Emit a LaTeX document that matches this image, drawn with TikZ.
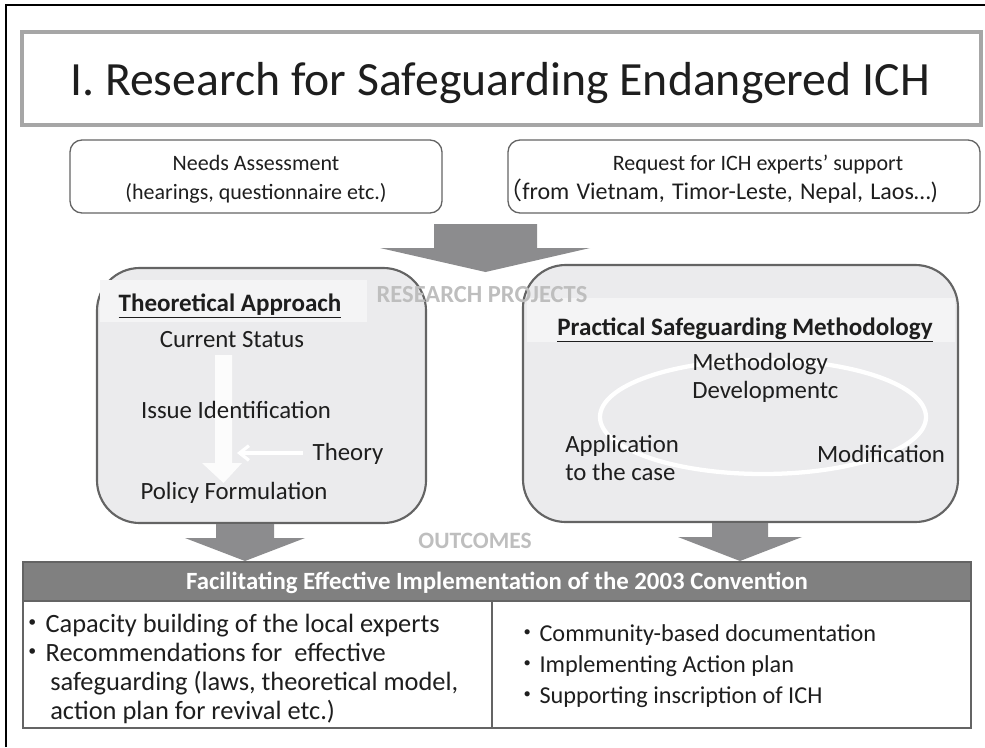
\documentclass[tikz,border=0pt]{standalone}
\usepackage{fontspec}
\setmainfont{Carlito}
\newfontfamily\cjk{Noto Sans CJK JP}
\usepackage{xcolor}
\usepackage{tikz}
\usetikzlibrary{calc,shapes,positioning,arrows.meta}

\definecolor{framegray}{RGB}{166,166,166}
\definecolor{linegray}{RGB}{100,100,100}
\definecolor{boxfill}{RGB}{235,235,237}
\definecolor{bandfill}{RGB}{244,244,245}
\definecolor{arrowgray}{RGB}{140,140,142}
\definecolor{headgray}{RGB}{128,128,128}
\definecolor{fadetext}{RGB}{190,190,190}
\definecolor{inktext}{RGB}{30,30,30}

\tikzset{
  txt/.style={inner sep=0pt, text=inktext},
  toptxt/.style={txt, font=\fontsize{16.5}{20}\selectfont},
  midtxt/.style={txt, font=\fontsize{18.6}{22}\selectfont},
  lowtxt/.style={txt, font=\fontsize{19.8}{24}\selectfont, anchor=base west},
  fadetxt/.style={inner sep=0pt, text=fadetext, font=\bfseries\fontsize{18.4}{22}\selectfont}
}

\begin{document}
\begin{tikzpicture}[x=0.75pt,y=0.75pt,yscale=-1,xscale=1]
\useasboundingbox (0,0) rectangle (985,747);

%Shape: page frame
\draw [line width=0.9] (6,747) -- (6,5) -- (985,5) ;

%Shape: title box
\draw [draw=framegray, line width=2.6, fill=white] (22,32) rectangle (981,125) ;
% Text Node
\node (title) [txt, anchor=base, font=\fontsize{35.8}{42}\selectfont] at (500,95) {I. Research for Safeguarding Endangered ICH};

%Shape: needs box
\draw [draw=linegray, line width=1, rounded corners=9] (70,140) rectangle (442,213) ;
% Text Node
\node (needs) [toptxt, anchor=base] at (256,170) {Needs Assessment};
\node (hearings) [toptxt, anchor=base] at (256,199) {(hearings, questionnaire etc.)};

%Shape: request box
\draw [draw=linegray, line width=1, rounded corners=9] (508,140) rectangle (980,213) ;
% Text Node
\node (request) [toptxt, anchor=base] at (758,170) {Request for ICH experts’ support};
\node (countries) [txt, anchor=base west, font=\fontsize{18}{21}\selectfont] at (498,199) {\spaceskip=0.3em plus 0.1em\relax{\cjk （}from Vietnam, Timor-Leste, Nepal, Laos…)};

%Shape: top block arrow
\fill [arrowgray] (434,224) -- (537,224) -- (537,248) -- (590,248) -- (485.5,272) -- (380,248) -- (434,248) -- cycle ;

%Shape: theoretical box
\draw [draw=linegray, line width=1.6, fill=boxfill, rounded corners=32] (97,268) rectangle (426,523) ;
\fill [bandfill] (100,280) rectangle (367,322) ;
% Text Node
\node (theo) [txt, anchor=base, font=\bfseries\fontsize{18.8}{22}\selectfont] at (230,311) {\underline{Theoretical Approach}};
\node (status) [midtxt, anchor=base] at (232,347) {Current Status};
%Shape: white down arrow
\fill [white, opacity=0.85] (215,355) -- (232,355) -- (232,463) -- (242,463) -- (223.5,483) -- (202,463) -- (215,463) -- cycle ;
\node (issue) [midtxt, anchor=base] at (236,418) {Issue Identification};
\node (theory) [midtxt, anchor=base] at (348,460) {Theory};
\coordinate (theoryin) at (303,453) ;
\coordinate (theoryout) at (237,453) ;
\draw [white, line width=2.4, -{Straight Barb[length=7pt,width=11pt]}] (theoryin) -- (theoryout) ;
\node (policy) [midtxt, anchor=base] at (234,499) {Policy Formulation};

%Shape: practical box
\draw [draw=linegray, line width=1.6, fill=boxfill, rounded corners=32] (523,265) rectangle (958,522) ;
\fill [bandfill] (527,298) rectangle (955,342) ;
% Text Node
\node (prac) [txt, anchor=base, font=\bfseries\fontsize{18.8}{22}\selectfont] at (745,335) {\underline{Practical Safeguarding Methodology}};
%Shape: white ellipse
\draw [white, line width=3.2] (763,417) ellipse [x radius=163, y radius=57] ;
\node (method) [midtxt, anchor=base west] at (692,370) {Methodology};
\node (develop) [midtxt, anchor=base west] at (692,398) {Developmentc};
\node (applic) [midtxt, anchor=base west] at (565,452) {Application};
\node (tocase) [midtxt, anchor=base west] at (565,480) {to the case};
\node (modif) [midtxt, anchor=base] at (881,462) {Modification};

% Text Node
\node (projects) [fadetxt, anchor=base] at (482,302) {RESEARCH PROJECTS};

%Shape: lower block arrows
\fill [arrowgray] (216,524) -- (274,524) -- (274,538) -- (305,538) -- (245,561) -- (185,538) -- (216,538) -- cycle ;
\fill [arrowgray] (712,523) -- (768,523) -- (768,537) -- (802,537) -- (740,561) -- (678,537) -- (712,537) -- cycle ;

% Text Node
\node (outcomes) [fadetxt, anchor=base, font=\bfseries\fontsize{17.6}{21}\selectfont] at (475,548) {OUTCOMES};

%Shape: outcome header bar
\draw [draw=linegray, line width=1.2, fill=headgray] (23,562) rectangle (971,601) ;
\node (facil) [inner sep=0pt, text=white, anchor=base, font=\bfseries\fontsize{18.6}{22}\selectfont] at (497,589) {Facilitating Effective Implementation of the 2003 Convention};

%Shape: outcome table
\draw [draw=linegray, line width=1.6] (23,601) rectangle (971,728) ;
\draw [draw=linegray, line width=1.2] (492,601) -- (492,728) ;

% Text Node
\node (cap) [lowtxt] at (19,632) {{\cjk ・}Capacity building of the local experts};
\node (recom) [lowtxt] at (19,661) {{\cjk ・}Recommendations for~ effective};
\node (safe) [lowtxt] at (50,690) {safeguarding (laws, theoretical model,};
\node (plan) [lowtxt] at (50,719) {action plan for revival etc.)};
\node (comm) [lowtxt, font=\fontsize{18.2}{22}\selectfont] at (515,641) {{\cjk ・}Community-based documentation};
\node (impl) [lowtxt, font=\fontsize{18.2}{22}\selectfont] at (515,672) {{\cjk ・}Implementing Action plan};
\node (supp) [lowtxt, font=\fontsize{18.2}{22}\selectfont] at (515,703) {{\cjk ・}Supporting inscription of ICH};

\end{tikzpicture}
\end{document}
